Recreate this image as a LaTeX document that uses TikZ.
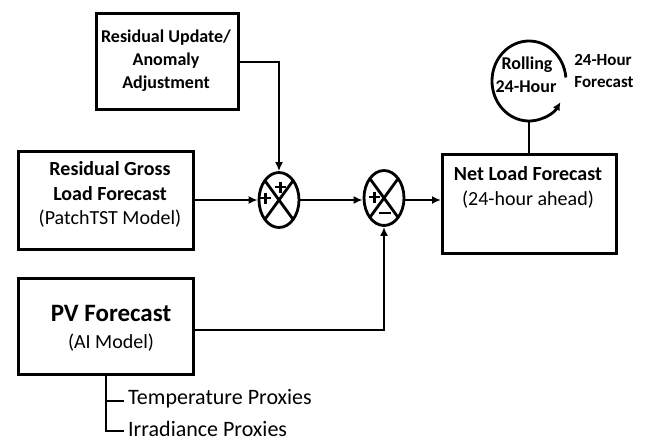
\documentclass[tikz,border=0pt]{standalone}
\usepackage{fontspec}
\setmainfont{Carlito}
\usetikzlibrary{arrows.meta,shapes.geometric,calc}
\begin{document}
\begin{tikzpicture}[x=1pt,y=-1pt,
  box/.style={draw,line width=3.4pt,rectangle,anchor=north west,inner sep=0pt},
  sumnode/.style={draw,line width=2.8pt,ellipse,inner sep=0pt,minimum width=40pt,minimum height=55pt},
  conn/.style={line width=2.8pt},
  arr/.style={conn,-{Latex[length=9pt,width=8pt]}},
  sgn/.style={line width=2.5pt},
  lbl/.style={inner sep=0pt,align=center},
  fb/.style={font=\fontsize{20}{24}\selectfont\bfseries},
  fr/.style={font=\fontsize{20}{24}\selectfont},
]
\useasboundingbox (0,0) rectangle (645,442);
\fill[white] (0,0) rectangle (645,442);

% boxes
\node[box,minimum width=142pt,minimum height=96pt] (upd) at (95,12) {};
\node[lbl,font=\fontsize{18}{23}\selectfont\bfseries] (updt) at (166,61) {Residual Update/\\Anomaly\\Adjustment};

\node[box,minimum width=175pt,minimum height=98pt] (gross) at (17,150) {};
\node[lbl,fb] (g1) at (110,169) {Residual Gross};
\node[lbl,fb] (g2) at (110,194) {Load Forecast};
\node[lbl,fr] (g3) at (110,219) {(PatchTST Model)};

\node[box,minimum width=175pt,minimum height=96pt] (pv) at (17,277) {};
\node[lbl,font=\fontsize{25}{30}\selectfont\bfseries] (pv1) at (111,313) {PV Forecast};
\node[lbl,fr] (pv2) at (111,343) {(AI Model)};

\node[box,minimum width=174pt,minimum height=99pt] (net) at (441,153) {};
\node[lbl,fb] (n1) at (528,174) {Net Load Forecast};
\node[lbl,fr] (n2) at (528,200) {(24-hour ahead)};

% summing junctions
\node[sumnode] (s1) at (279,200) {};
\node[sumnode] (s2) at (384,198) {};
\draw[conn] ($(s1)+(-14.1,-19.4)$) -- ($(s1)+(14.1,19.4)$);
\draw[conn] ($(s1)+(14.1,-19.4)$) -- ($(s1)+(-14.1,19.4)$);
\draw[conn] ($(s2)+(-14.1,-19.4)$) -- ($(s2)+(14.1,19.4)$);
\draw[conn] ($(s2)+(14.1,-19.4)$) -- ($(s2)+(-14.1,19.4)$);
% signs
\draw[sgn] (275,187) -- (286,187) (280.5,181.5) -- (280.5,192.5);
\draw[sgn] (260,198) -- (271,198) (265.5,192.5) -- (265.5,203.5);
\draw[sgn] (369,197) -- (380,197) (374.5,191.5) -- (374.5,202.5);
\draw[sgn] (379,213) -- (391,213);

% connectors
\draw[arr] (upd.east |- 0,62) -| (s1.north);
\draw[arr] (gross.east |- 0,200) -- (s1.west);
\draw[arr] (s1.east) -- (s2.west |- s1.east);
\draw[arr] (s2.east |- s1.east) -- (net.west |- s1.east);
\draw[arr] (pv.east |- 0,330) -| (s2.south);

% rolling loop
\coordinate (rc) at (529,81);
\draw[conn,-{Latex[length=8pt,width=8pt]}] ($(rc)+(-5:37 and 40)$) arc[start angle=-5,end angle=-328,x radius=37,y radius=40];
\coordinate (rb) at (529,121);
\draw[conn] (rb) -- (net.north -| rb);
\node[lbl,font=\fontsize{18}{22}\selectfont\bfseries] (r1) at (527,65) {Rolling};
\node[lbl,font=\fontsize{18}{22}\selectfont\bfseries] (r2) at (526,87) {24-Hour};
\node[lbl,font=\fontsize{17}{21}\selectfont\bfseries] (f1) at (603,60) {24-Hour};
\node[lbl,font=\fontsize{17}{21}\selectfont\bfseries] (f2) at (604,82) {Forecast};

% proxies
\coordinate (pt) at (106,373);
\coordinate (pb) at (106,431);
\coordinate (tb) at (124,401);
\coordinate (ib) at (124,431);
\node[lbl,anchor=west,font=\fontsize{22}{26}\selectfont] (tp) at (128,399) {Temperature Proxies};
\node[lbl,anchor=west,font=\fontsize{22}{26}\selectfont] (ip) at (128,429) {Irradiance Proxies};
\draw[conn] (pv.south -| pt) -- (pb) -- (ib);
\draw[conn] (pt |- tb) -- (tb);
\end{tikzpicture}
\end{document}
